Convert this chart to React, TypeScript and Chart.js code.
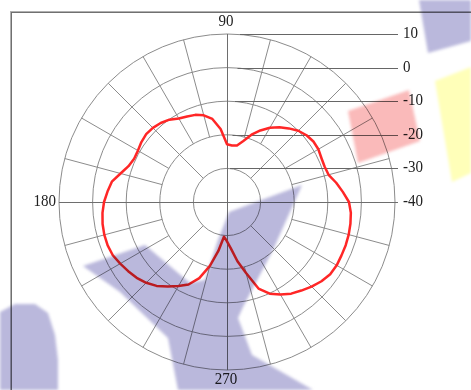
import { useEffect, useRef } from "react";
import { Chart, registerables } from "chart.js";

Chart.register(...registerables);

// Angles (degrees, counter-clockwise from 0 at the right) and measured gain (dB)
const angleDeg = [
  0, 5, 10, 15, 20, 25, 30, 35, 40, 45, 50, 55, 60, 65, 70, 75, 80, 85,
  90, 95, 100, 105, 110, 115, 120, 125, 130, 135, 140, 145, 150, 155, 160, 165, 170, 175,
  180, 185, 190, 195, 200, 205, 210, 215, 220, 225, 230, 235, 240, 245, 250, 255, 260, 265,
  270, 275, 280, 285, 290, 295, 300, 305, 310, 315, 320, 325, 330, 335, 340, 345, 350, 355,
];
const gainDb = [
  -3.7, -5.4, -7.0, -8.7, -9.1, -9.0, -8.6, -8.6, -9.1, -10.0, -11.4, -12.8, -14.5, -16.5, -18.7, -21.2, -22.9, -23.1,
  -22.8, -18.2, -14.9, -13.3, -12.4, -11.9, -11.3, -10.1, -9.3, -8.8, -8.6, -8.9, -9.4, -9.5, -8.8, -7.2, -5.2, -4.3,
  -3.4, -2.8, -2.4, -2.2, -2.2, -2.5, -3.3, -4.1, -4.9, -6.0, -7.4, -9.3, -11.1, -12.9, -15.9, -20.3, -25.2, -29.6,
  -28.3, -26.0, -22.1, -18.1, -12.6, -9.9, -8.2, -6.7, -5.6, -4.4, -3.3, -2.5, -2.3, -2.4, -2.4, -2.5, -2.7, -3.0,
];
const radialTicks = [10, 0, -10, -20, -30, -40];
const rMin = -40;
const rMax = 10;
const angleLabels = [
  { text: "90", deg: 90 },
  { text: "180", deg: 180 },
  { text: "270", deg: 270 },
];

// Background watermark (decoration, not data)
const watermark = [
  {
    color: "rgb(186,184,220)",
    pts: [
      [83, 266], [145, 245], [190, 283], [205, 280], [218, 240], [229, 212], [302, 185],
      [273, 250], [243, 307], [238, 318], [252, 355], [313, 390], [178, 390], [168, 338], [120, 292],
    ],
  },
  {
    color: "rgb(186,184,220)",
    pts: [[0, 312], [15, 304], [35, 304], [48, 313], [55, 335], [58, 360], [58, 390], [0, 390]],
  },
  { color: "rgb(186,184,220)", pts: [[419, 0], [471, 0], [471, 41], [428, 53]] },
  { color: "rgb(250,186,186)", pts: [[348, 111], [409, 90], [420, 141], [358, 163]] },
  { color: "rgb(255,255,185)", pts: [[435, 81], [471, 67], [471, 173], [452, 182]] },
];

function App() {
  const ref = useRef<HTMLCanvasElement | null>(null);

  useEffect(() => {
    const canvas = ref.current;
    if (!canvas) return;

    // radar index i runs clockwise from the right: math angle = -5*i
    const order: number[] = [];
    for (let i = 0; i < angleDeg.length; i++) {
      const a = (360 - angleDeg[i]) % 360;
      order.push(angleDeg.indexOf(a));
    }
    const labels = order.map((k) => String(angleDeg[k]));
    const data = order.map((k) => gainDb[k]);

    const drawText = (ctx: CanvasRenderingContext2D, t: string, x: number, y: number, align: CanvasTextAlign) => {
      ctx.save();
      ctx.translate(x, y);
      ctx.scale(1, 1.15);
      ctx.textAlign = align;
      ctx.textBaseline = "middle";
      ctx.fillText(t, 0, 0);
      ctx.restore();
    };

    const polarDecor = {
      id: "polarDecor",
      beforeDraw(chart: any) {
        const ctx = chart.ctx as CanvasRenderingContext2D;
        ctx.save();
        ctx.fillStyle = "#ffffff";
        ctx.fillRect(0, 0, chart.width, chart.height);
        ctx.restore();
      },
      beforeDatasetsDraw(chart: any) {
        const s = chart.scales.r;
        const ctx = chart.ctx as CanvasRenderingContext2D;
        const cx = s.xCenter;
        const cy = s.yCenter;
        const R = s.getDistanceFromCenterForValue(rMax);
        ctx.save();
        ctx.lineWidth = 1;
        ctx.strokeStyle = "#8c8c8c";
        for (let a = 0; a < 360; a += 15) {
          if (a % 90 === 0) continue;
          const r0 = s.getDistanceFromCenterForValue(a % 45 === 0 ? -30 : -20);
          const t = (a * Math.PI) / 180;
          ctx.beginPath();
          ctx.moveTo(cx + r0 * Math.cos(t), cy - r0 * Math.sin(t));
          ctx.lineTo(cx + R * Math.cos(t), cy - R * Math.sin(t));
          ctx.stroke();
        }
        // axes
        ctx.strokeStyle = "#6e6e6e";
        ctx.beginPath();
        ctx.moveTo(cx - R, cy + 0.5);
        ctx.lineTo(cx + R + 3, cy + 0.5);
        ctx.moveTo(cx + 0.5, cy - R);
        ctx.lineTo(cx + 0.5, cy + R);
        ctx.stroke();
        // radial tick lines and labels
        ctx.strokeStyle = "#666666";
        ctx.fillStyle = "#222222";
        ctx.font = "15px 'Liberation Serif', serif";
        radialTicks.forEach((v) => {
          const y = Math.round(cy - s.getDistanceFromCenterForValue(v)) + 0.5;
          if (v > rMin) {
            const x0 = cx + 3 + (v + 30) / 4;
            ctx.beginPath();
            ctx.moveTo(x0, y);
            ctx.lineTo(cx + R + 3, y);
            ctx.stroke();
          }
          drawText(ctx, String(v), cx + R + 8, y - 1, "left");
        });
        // angle labels
        angleLabels.forEach((l) => {
          const t = (l.deg * Math.PI) / 180;
          const ox = Math.cos(t);
          const oy = Math.sin(t);
          if (Math.abs(oy) > 0.5) {
            const y = oy > 0 ? cy - R - 13 : cy + R + 9;
            drawText(ctx, l.text, cx - 1, y, "center");
          } else {
            drawText(ctx, l.text, ox < 0 ? cx - R - 3 : cx + R + 3, cy - 1, ox < 0 ? "right" : "left");
          }
        });
        ctx.restore();
      },
      afterDraw(chart: any) {
        const ctx = chart.ctx as CanvasRenderingContext2D;
        ctx.save();
        // frame
        ctx.fillStyle = "#b0b0b0";
        ctx.fillRect(10, 11, 461, 1);
        ctx.fillRect(10, 11, 1, 379);
        ctx.fillStyle = "#707070";
        ctx.fillRect(11, 12, 460, 1);
        ctx.fillRect(11, 12, 1, 378);
        // watermark overlay
        ctx.globalCompositeOperation = "multiply";
        ctx.filter = "blur(1.5px)";
        watermark.forEach((w) => {
          ctx.fillStyle = w.color;
          ctx.beginPath();
          w.pts.forEach((p, i) => (i === 0 ? ctx.moveTo(p[0], p[1]) : ctx.lineTo(p[0], p[1])));
          ctx.closePath();
          ctx.fill();
        });
        ctx.restore();
      },
    };

    const chart = new Chart(canvas, {
      type: "radar",
      data: {
        labels,
        datasets: [
          {
            data,
            borderColor: "#ff2626",
            borderWidth: 2.5,
            pointRadius: 0,
            pointHoverRadius: 0,
            fill: false,
            tension: 0,
            borderJoinStyle: "round",
          },
        ],
      },
      options: {
        responsive: false,
        animation: false,
        devicePixelRatio: 1,
        layout: { padding: { left: 59, right: 76, top: 34, bottom: 20 } },
        plugins: { legend: { display: false }, tooltip: { enabled: false } },
        scales: {
          r: {
            min: rMin,
            max: rMax,
            startAngle: 90,
            ticks: { display: false, stepSize: 10 },
            grid: { circular: true, color: "#8c8c8c", lineWidth: 1 },
            angleLines: { display: false },
            pointLabels: { display: false },
          },
        },
      },
      plugins: [polarDecor],
    } as any);

    return () => chart.destroy();
  }, []);

  return (
    <div style={{ position: "absolute", left: 0, top: 0, width: 471, height: 390 }}>
      <canvas ref={ref} width={471} height={390} style={{ display: "block" }} />
    </div>
  );
}

export default App;
